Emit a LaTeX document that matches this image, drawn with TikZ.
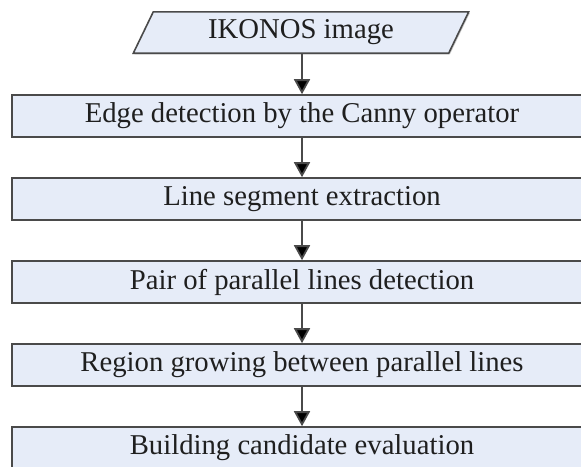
\documentclass[tikz,border=0pt]{standalone}
\usepackage{fontspec}
\setmainfont{Liberation Serif}
\usetikzlibrary{arrows.meta,shadows,backgrounds}
\definecolor{boxfill}{HTML}{E6ECF8}
\definecolor{edge}{HTML}{4A4A4A}
\begin{document}
\begin{tikzpicture}[x=1pt,y=-1pt,
  txt/.style={font=\fontsize{28.7}{30}\selectfont, text=black!88},
  shad/.style={drop shadow={shadow xshift=1.2pt, shadow yshift=-1.2pt, fill=black!35, opacity=0.6}},
  box/.style={txt, draw=edge, fill=boxfill, line width=1.6pt, minimum width=580pt, minimum height=42pt, inner sep=0pt, shad},
  arr/.style={draw=edge, line width=1.8pt, -{Triangle[width=16pt,length=15pt,fill=black]}}]
\useasboundingbox (0,0) rectangle (581,466);
\node[txt, minimum width=335pt, minimum height=41pt, inner sep=0pt] (in) at (301,32.5) {IKONOS image};
\begin{scope}[on background layer]
\draw[draw=edge, fill=boxfill, line width=1.6pt, shad]
  ([xshift=20pt]in.north west) -- (in.north east) -- ([xshift=-20pt]in.south east) -- (in.south west) -- cycle;
\end{scope}
\node[box] (b1) at (302,116) {Edge detection by the Canny operator};
\node[box] (b2) at (302,199) {Line segment extraction};
\node[box] (b3) at (302,282) {Pair of parallel lines detection};
\node[box] (b4) at (302,365) {Region growing between parallel lines};
\node[box] (b5) at (302,448) {Building candidate evaluation};
\draw[arr] (in.south -| b1.north) -- (b1.north);
\draw[arr] (b1) -- (b2);
\draw[arr] (b2) -- (b3);
\draw[arr] (b3) -- (b4);
\draw[arr] (b4) -- (b5);
\end{tikzpicture}
\end{document}
